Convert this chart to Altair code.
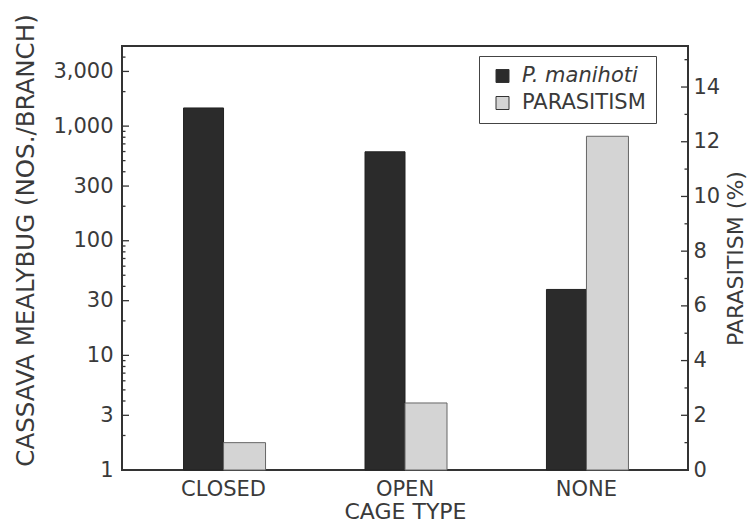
import altair as alt
import pandas as pd

cage_types = ["CLOSED", "OPEN", "NONE"]
mealybug = [1440, 597, 37.6]          # P. manihoti, nos./branch (log axis)
parasitism = [1.0, 2.45, 12.2]        # parasitism, %

left_major = [1, 3, 10, 30, 100, 300, 1000, 3000]
left_minor = [2, 4, 5, 6, 7, 8, 9, 20, 40, 50, 60, 70, 80, 90,
              200, 400, 500, 600, 700, 800, 900, 2000, 4000, 5000]
right_major = [0, 2, 4, 6, 8, 10, 12, 14]
right_minor = [1, 3, 5, 7, 9, 11, 13, 15]

series = ["P. manihoti", "PARASITISM"]
colors = ["#2b2b2b", "#d4d4d4"]

df = pd.DataFrame({"cage": cage_types, "mealybug": mealybug, "parasitism": parasitism})

W, H = 566, 424
FONT = "DejaVu Sans"
TXT = "#3a3a3a"

band = alt.Scale(domain=cage_types, paddingInner=0.537, paddingOuter=0.328)
x_axis = alt.Axis(title="CAGE TYPE", ticks=False, domain=False, labelAngle=0,
                  labelFontSize=21, labelPadding=8, titleFontSize=22,
                  titleFontWeight="normal", titlePadding=2,
                  labelColor=TXT, titleColor=TXT)
xenc = alt.X("cage:N", sort=cage_types, scale=band, axis=x_axis)

log_scale = alt.Scale(type="log", domain=[1, 5000], nice=False)
lin_scale = alt.Scale(domain=[0, 15.5], nice=False, zero=True)

color_scale = alt.Scale(domain=series, range=colors)
legend = alt.Legend(title=None, orient="none", legendX=357, legendY=10,
                    strokeColor="#444", padding=9.5, symbolOffset=3.5, symbolType="square",
                    symbolSize=169, symbolStrokeColor="#333", symbolStrokeWidth=1,
                    labelFontSize=21, labelOffset=9, rowPadding=5, labelFont=FONT,
                    labelColor=TXT, labelLimit=300,
                    labelExpr="datum.label + '\u00a0\u00a0\u00a0\u00a0\u00a0'",
                    labelFontStyle={"expr": "datum.label == 'P. manihoti' ? 'italic' : 'normal'"})

black = alt.Chart(df).transform_calculate(series=f"'{series[0]}'").mark_bar(
    width=40, xOffset=-20, stroke="#222", strokeWidth=1).encode(
    x=xenc,
    y=alt.Y("mealybug:Q", scale=log_scale,
            axis=alt.Axis(orient="left", values=left_major, format=",", ticks=False,
                          domain=False, grid=False, labelFontSize=21, labelPadding=9,
                          labelColor=TXT, title="CASSAVA MEALYBUG (NOS./BRANCH)",
                          titleFontSize=24.5, titleFontWeight="normal", titleColor=TXT,
                          titleAngle=270, titleX=-96, titleY=194,
                          titleAlign="center", titleBaseline="middle")),
    y2=alt.datum(1),
    color=alt.Color("series:N", scale=color_scale, legend=legend),
)

gray = alt.Chart(df).transform_calculate(series=f"'{series[1]}'").mark_bar(
    width=42, xOffset=21, stroke="#666", strokeWidth=1).encode(
    x=xenc,
    y=alt.Y("parasitism:Q", scale=lin_scale,
            axis=alt.Axis(orient="right", values=right_major, ticks=False, domain=False,
                          grid=False, labelFontSize=21, labelPadding=5, labelColor=TXT,
                          title="PARASITISM (%)", titleFontSize=22, titleFontWeight="normal",
                          titleColor=TXT, titleAngle=270, titleX=47, titleY=212,
                          titleAlign="center", titleBaseline="middle")),
    color=alt.Color("series:N", scale=color_scale, legend=legend),
)


def tick_rules(values, scale, x0, x1):
    return alt.Chart(pd.DataFrame({"v": values})).mark_rule(
        color="#333", strokeWidth=1.3).encode(
        y=alt.Y("v:Q", scale=scale, axis=None),
        x=alt.value(x0), x2=alt.value(x1),
    )


left_maj = tick_rules(left_major, log_scale, 0, 7)
left_min = tick_rules(left_minor, log_scale, 0, 3.5)
right_maj = tick_rules(right_major, lin_scale, W - 7, W)
right_min = tick_rules(right_minor, lin_scale, W - 3.5, W)

chart = alt.layer(black, gray, left_maj, left_min, right_maj, right_min).resolve_scale(
    y="independent"
).properties(
    width=W, height=H,
    autosize=alt.AutoSizeParams(type="none"),
    padding={"left": 114, "top": 38, "right": 60, "bottom": 53},
).configure(
    font=FONT,
).configure_view(
    stroke="#333", strokeWidth=2,
)

chart.save("out.html", embed_options={"renderer": "svg", "actions": False})
